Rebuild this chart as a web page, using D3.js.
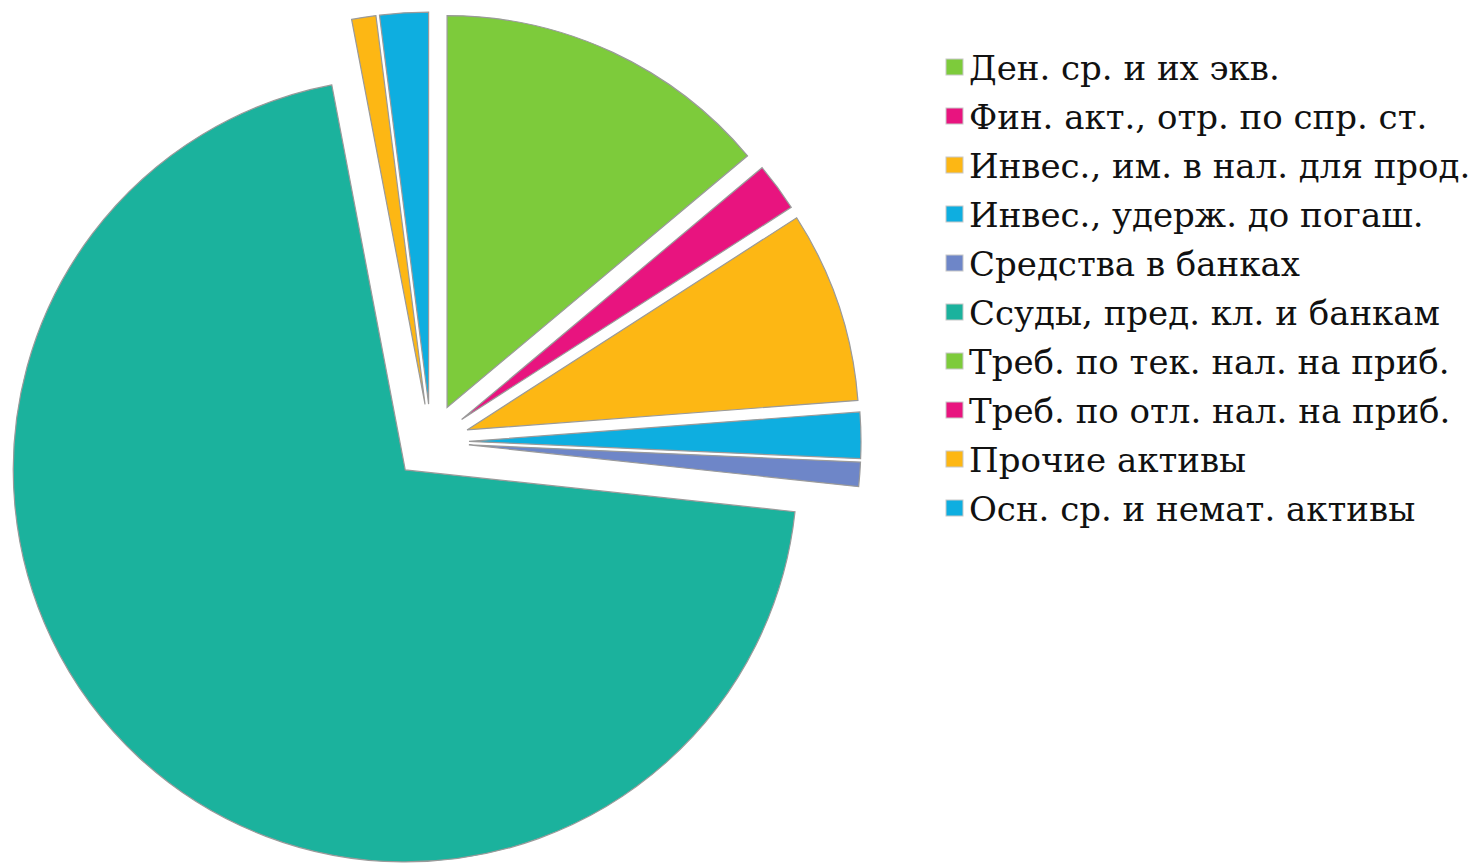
<!DOCTYPE html>
<html>
<head>
<meta charset="utf-8">
<script src="https://cdn.jsdelivr.net/npm/d3@7"></script>
<style>
html,body{margin:0;padding:0;background:#fff;}
svg{display:block;}
</style>
</head>
<body>
<svg id="chart" width="1474" height="865"></svg>
<script>
const categories = [
  "Ден. ср. и их экв.",
  "Фин. акт., отр. по спр. ст.",
  "Инвес., им. в нал. для прод.",
  "Инвес., удерж. до погаш.",
  "Средства в банках",
  "Ссуды, пред. кл. и банкам",
  "Треб. по тек. нал. на приб.",
  "Треб. по отл. нал. на приб.",
  "Прочие активы",
  "Осн. ср. и немат. активы"
];
const values = [13.9, 2.0, 7.9, 1.9, 1.0, 70.3, 0.0, 0.0, 1.0, 2.0];
const colors = ["#7dcb3b", "#e8147f", "#fdb714", "#0eaee0", "#6e86c8", "#1bb29d", "#7dcb3b", "#e8147f", "#fdb714", "#0eaee0"];

const svg = d3.select("#chart");
const cx = 431, cy = 442, R = 392, explode = 38;

const pie = d3.pie().sort(null).value(d => d.v).startAngle(0).endAngle(2 * Math.PI);
const arcs = pie(categories.map((c, i) => ({c, v: values[i], col: colors[i]})));
const arc = d3.arc().innerRadius(0).outerRadius(R);

const g = svg.append("g").attr("transform", `translate(${cx},${cy})`);
g.selectAll("path").data(arcs).join("path")
  .attr("d", arc)
  .attr("transform", d => {
    const m = (d.startAngle + d.endAngle) / 2;
    return `translate(${explode * Math.sin(m)},${-explode * Math.cos(m)})`;
  })
  .attr("fill", d => d.data.col)
  .attr("stroke", "#9a9a9a")
  .attr("stroke-width", d => d.data.v > 0 ? 1.2 : 0)
  .attr("stroke-linejoin", "miter");

const legend = svg.append("g");
const lx = 946, ly0 = 80, step = 49;
const rows = legend.selectAll("g").data(categories).join("g")
  .attr("transform", (d, i) => `translate(${lx},${ly0 + i * step})`);
rows.append("rect")
  .attr("x", 0).attr("y", -21).attr("width", 17).attr("height", 16)
  .attr("fill", (d, i) => colors[i])
  .attr("stroke", "#c8c8c8").attr("stroke-width", 1);
rows.append("text")
  .attr("x", 23).attr("y", 0)
  .style("font-family", "'DejaVu Serif', serif")
  .attr("font-size", 34)
  .attr("fill", "#111")
  .text(d => d);
</script>
</body>
</html>
